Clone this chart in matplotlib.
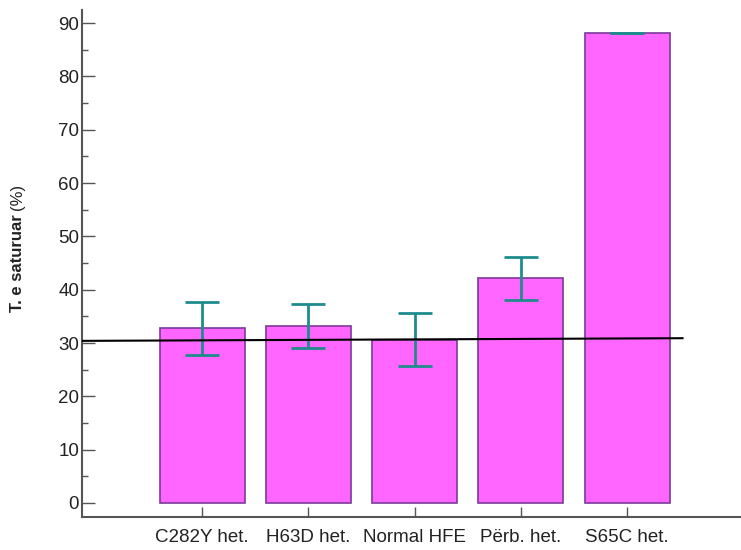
import matplotlib
matplotlib.use("Agg")
import matplotlib.pyplot as plt
from matplotlib.ticker import MultipleLocator

plt.rcParams['font.family'] = ['Liberation Sans', 'DejaVu Sans']

categories = ["C282Y het.", "H63D het.", "Normal HFE", "Përb. het.", "S65C het."]
means = [32.8, 33.2, 30.6, 42.2, 88.1]
err_low = [27.8, 29.1, 25.7, 38.1, 88.1]
err_high = [37.7, 37.3, 35.6, 46.1, 88.1]
line_x = [-1.13, 4.52]
line_y = [30.4, 30.9]
yticks = list(range(0, 100, 10))

fig = plt.figure(figsize=(7.41, 5.5), dpi=100)
ax = fig.add_axes([82/741, 1-517/550, 1-82/741, (517-10)/550])

x = list(range(len(categories)))
ax.bar(x, means, width=0.8, color="#FF66FF", edgecolor="#7A3A9A", linewidth=1.2, zorder=2)
yerr = [[m - lo for m, lo in zip(means, err_low)], [hi - m for m, hi in zip(means, err_high)]]
ax.errorbar(x, means, yerr=yerr, fmt='none', ecolor="#1E8C8C", elinewidth=2, capsize=12.5, capthick=2, zorder=3)
ax.plot(line_x, line_y, color="black", linewidth=1.5, zorder=4)

ax.set_xlim(-1.13, 5.07)
ax.set_ylim(-2.63, 92.45)
ax.set_xticks(x)
ax.set_xticklabels(categories, fontsize=13.5, color="#222222")
ax.set_yticks(yticks)
ax.yaxis.set_minor_locator(MultipleLocator(5))
ax.tick_params(axis='y', which='major', direction='in', length=9, width=1, labelsize=13.5, labelcolor="#222222", color="#555555", pad=2)
ax.tick_params(axis='y', which='minor', direction='in', length=4.5, width=1, color="#555555")
ax.tick_params(axis='x', which='major', direction='in', length=7, width=1, color="#555555", pad=9)

for s in ['top', 'right']:
    ax.spines[s].set_visible(False)
for s in ['left', 'bottom']:
    ax.spines[s].set_color("#555555")
    ax.spines[s].set_linewidth(1.5)

# y label: bold part + normal part
lx = 18 / 741
t1 = fig.text(lx, 1 - 312/550, "T. e saturuar", rotation=90, fontsize=12, fontweight='bold',
              color="#222222", ha='center', va='bottom')
fig.canvas.draw()
bb = t1.get_window_extent(fig.canvas.get_renderer())
top_frac = bb.y1 / fig.bbox.height
fig.text(lx, top_frac + 4/550, "(%)", rotation=90, fontsize=12, color="#222222", ha='center', va='bottom')

fig.savefig("out.png", dpi=100)
